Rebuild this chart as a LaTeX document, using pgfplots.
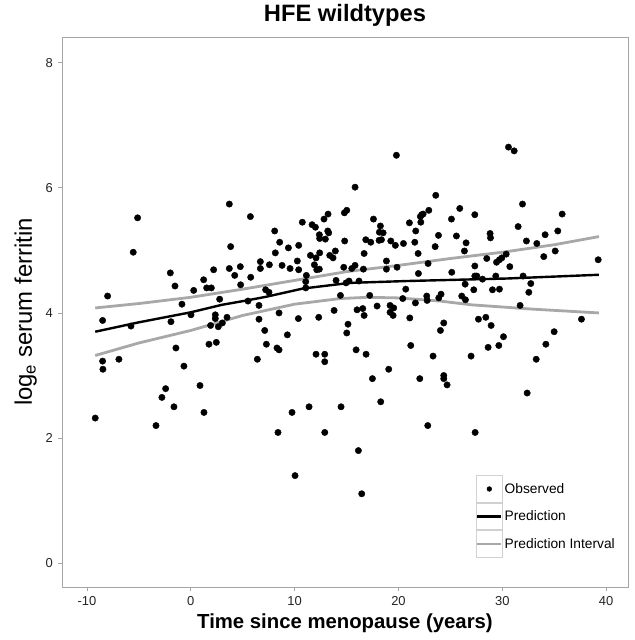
\documentclass[border=0pt]{standalone}
\usepackage{pgfplots}
\pgfplotsset{compat=1.18}
\usepackage{pgfplotstable}
\usepackage{fontspec}
\setmainfont{Liberation Sans}
\definecolor{axgray}{RGB}{165,165,165}
\definecolor{ticktext}{RGB}{35,35,35}
\definecolor{pigray}{RGB}{168,168,168}
\pgfplotstableread{
x y
-8.01 4.27
-5.12 5.52
-5.54 4.97
-1.97 4.64
-1.52 4.43
-0.85 4.14
0.28 4.36
1.24 4.53
1.53 4.40
1.98 4.40
2.20 4.69
2.78 4.22
3.71 5.74
3.84 5.06
3.71 4.71
4.23 4.60
4.77 4.74
4.80 4.45
5.74 5.54
5.77 4.57
5.51 4.19
6.57 4.12
6.70 4.82
6.70 4.71
7.57 4.77
7.53 4.33
7.21 4.37
8.08 5.31
8.56 5.13
8.14 4.96
8.79 4.76
9.40 5.04
9.56 4.71
10.39 5.08
10.26 4.83
10.39 4.69
10.74 5.45
11.13 4.60
11.07 4.50
11.07 4.40
11.52 4.92
11.68 5.41
12.00 5.37
12.06 4.88
11.90 4.77
12.13 4.69
12.38 4.70
12.41 4.96
12.38 5.25
12.41 5.19
12.83 5.50
12.96 5.18
13.22 5.58
13.19 5.31
13.28 5.28
13.38 4.92
13.70 4.88
13.92 4.99
13.99 4.52
14.73 4.73
14.82 5.15
14.79 5.60
15.02 5.64
14.41 4.28
14.95 4.48
15.24 4.51
30.59 6.65
31.14 6.59
19.80 6.52
15.82 6.01
23.59 5.88
31.94 5.74
35.76 5.58
17.59 5.50
22.24 5.57
22.11 5.54
22.37 5.58
22.92 5.64
25.10 5.50
25.90 5.67
27.35 5.57
21.05 5.44
18.26 5.39
21.66 5.31
22.15 5.45
18.16 5.29
18.52 5.28
18.13 5.16
18.36 5.17
16.85 5.17
17.33 5.13
19.26 5.15
19.70 5.08
20.48 5.11
21.57 5.13
23.85 5.24
25.58 5.23
26.51 5.12
26.35 4.99
23.53 5.06
21.89 4.95
16.69 4.95
28.82 5.27
28.86 5.20
31.52 5.38
32.32 5.15
33.32 5.11
34.12 5.25
35.34 5.31
33.99 4.90
35.09 4.99
28.50 4.87
29.44 4.81
29.72 4.85
29.95 4.88
30.37 4.94
30.72 4.74
27.35 4.75
22.85 4.79
18.84 4.83
18.84 4.70
19.86 4.73
39.23 4.85
15.82 4.76
15.50 4.71
16.62 4.70
21.92 4.63
25.13 4.65
27.35 4.59
27.54 4.59
28.09 4.54
29.37 4.59
32.00 4.59
16.20 4.51
26.42 4.46
20.70 4.38
27.25 4.37
29.05 4.37
29.72 4.38
32.74 4.47
32.55 4.33
17.23 4.28
20.41 4.23
21.63 4.16
22.72 4.27
22.76 4.20
23.88 4.24
24.10 4.30
26.09 4.27
26.45 4.21
17.94 4.11
19.19 4.12
19.54 4.08
16.01 4.05
16.56 4.07
31.71 4.12
16.69 3.96
19.19 4.01
19.48 3.96
21.09 3.92
15.14 3.82
15.02 3.68
24.36 3.84
24.04 3.72
27.70 3.90
28.41 3.93
28.92 3.80
30.11 3.62
37.62 3.90
34.99 3.70
34.19 3.50
33.26 3.26
29.66 3.48
28.63 3.45
26.99 3.31
23.33 3.31
21.18 3.48
15.92 3.41
16.88 3.34
19.06 3.10
17.49 2.95
22.05 2.95
24.36 3.00
24.36 2.95
24.68 2.85
32.39 2.72
18.29 2.58
14.47 2.50
22.82 2.20
27.38 2.09
16.14 1.80
16.46 1.11
-8.49 3.88
-5.76 3.79
-1.91 3.86
0.02 3.97
2.36 3.97
2.36 3.91
1.91 3.80
2.65 3.78
3.04 3.84
3.49 3.93
6.57 3.90
8.50 4.00
10.36 3.91
12.32 3.93
13.80 4.04
7.12 3.72
9.30 3.65
7.28 3.50
8.30 3.44
8.50 3.41
1.75 3.50
2.46 3.53
-1.43 3.44
-8.49 3.23
-8.46 3.10
-6.92 3.26
6.41 3.26
12.06 3.34
12.90 3.34
12.90 3.22
-0.66 3.15
-2.42 2.79
-2.78 2.65
0.89 2.84
-1.62 2.50
1.27 2.41
9.75 2.41
11.39 2.50
-9.20 2.32
-3.35 2.20
8.40 2.09
12.90 2.09
10.04 1.40
}\obsdata
\pgfplotstableread{
x y
-9.2 3.70
-5.0 3.85
0.0 4.01
3.0 4.13
5.4 4.20
7.3 4.26
10.8 4.39
15.3 4.48
20.8 4.51
30.4 4.55
39.3 4.61
}\preddata
\pgfplotstableread{
x y
-9.2 4.08
-5.0 4.15
0.0 4.25
5.0 4.38
10.0 4.52
15.0 4.66
20.0 4.76
25.0 4.87
30.0 4.97
35.0 5.09
39.3 5.22
}\updata
\pgfplotstableread{
x y
-9.2 3.32
-5.0 3.52
0.0 3.72
5.0 3.96
10.0 4.14
14.4 4.23
17.0 4.25
20.0 4.24
24.0 4.19
27.0 4.13
33.0 4.06
39.3 4.00
}\lowdata
\begin{document}
\begin{tikzpicture}
\useasboundingbox (-62bp,-53bp) rectangle (573bp,587bp);
\begin{axis}[
  at={(0bp,0bp)}, anchor=south west,
  scale only axis,
  width=566bp, height=550bp,
  xmin=-12.4, xmax=42.1, ymin=-0.38, ymax=8.41,
  xtick={-10,0,10,20,30,40}, ytick={0,2,4,6,8},
  axis line style={axgray, line width=0.8bp},
  tick style={axgray, line width=0.8bp},
  tick align=outside, major tick length=4bp,
  xtick pos=bottom, ytick pos=left,
  /pgf/number format/assume math mode=true,
  tick label style={font=\fontsize{13}{15}\selectfont, text=ticktext},
  xticklabel style={yshift=-1.7bp},
  yticklabel style={xshift=-1.7bp},
  title={HFE wildtypes},
  title style={at={(0.5,1)}, anchor=base, yshift=9.3bp, font=\bfseries\fontsize{23.8}{28}\selectfont},
  xlabel={Time since menopause (years)},
  xlabel style={at={(0.5,0)}, anchor=base, yshift=-41.6bp, font=\bfseries\fontsize{20.4}{24}\selectfont},
  ylabel={log\textsubscript{e} serum ferritin},
  ylabel style={at={(0,0.5)}, anchor=base, yshift=30bp, font=\fontsize{24}{28}\selectfont},
  legend style={at={(0.731,0.2036)}, anchor=north west, draw=none, fill=white,
    font=\fontsize{13.8}{16}\selectfont, inner sep=0pt, row sep=0pt,
    /tikz/every even column/.append style={column sep=1bp}},
  legend cell align=left,
]
\addplot[only marks, mark=*, mark size=3.2bp, black, forget plot] table[x=x,y=y] {\obsdata};
\addplot[pigray, line width=2.8bp, forget plot] table[x=x,y=y] {\updata};
\addplot[pigray, line width=2.8bp, forget plot] table[x=x,y=y] {\lowdata};
\addplot[black, line width=2.4bp, forget plot] table[x=x,y=y] {\preddata};
\addlegendimage{legend image code/.code={\draw[black!18, line width=0.8bp, fill=white] (0bp,-13.35bp) rectangle (26bp,13.35bp); \fill[black] (13bp,0bp) circle (2.4bp);}}
\addlegendentry{Observed}
\addlegendimage{legend image code/.code={\draw[black!18, line width=0.8bp, fill=white] (0bp,-13.35bp) rectangle (26bp,13.35bp); \draw[black, line width=2.4bp] (1bp,0bp) -- (25bp,0bp);}}
\addlegendentry{Prediction}
\addlegendimage{legend image code/.code={\draw[black!18, line width=0.8bp, fill=white] (0bp,-13.35bp) rectangle (26bp,13.35bp); \draw[pigray, line width=2.8bp] (1bp,0bp) -- (25bp,0bp);}}
\addlegendentry{Prediction Interval}
\end{axis}
\end{tikzpicture}
\end{document}
